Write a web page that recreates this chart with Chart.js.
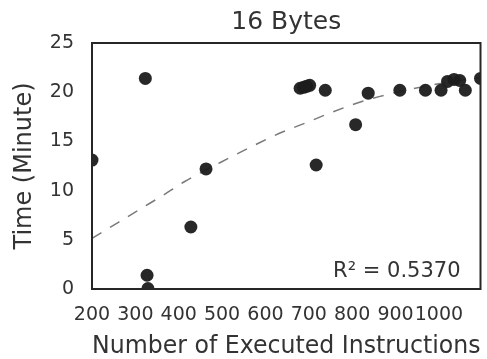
<!DOCTYPE html>
<html>
<head>
<meta charset="utf-8">
<script src="https://cdn.jsdelivr.net/npm/chart.js@4/dist/chart.umd.min.js"></script>
<style>
  html, body { margin: 0; padding: 0; background: #ffffff; }
  #wrap { width: 487px; height: 359px; }
</style>
</head>
<body>
<div id="wrap"><canvas id="c" width="487" height="359"></canvas></div>
<script>
// ---- data ----
const titleText = "16 Bytes";
const xLabel = "Number of Executed Instructions";
const yLabel = "Time (Minute)";
const annotationText = "R\u00B2 = 0.5370";

const instructions = [200, 323, 327, 329, 428, 463, 680, 688, 695, 702, 717, 738, 808, 837, 910, 969, 1005, 1020, 1035, 1048, 1061, 1096];
const minutes      = [13.1, 21.4, 1.4, 0.05, 6.3, 12.2, 20.4, 20.5, 20.6, 20.7, 12.6, 20.2, 16.7, 19.9, 20.2, 20.2, 20.2, 21.1, 21.3, 21.2, 20.2, 21.4];

const fitX = [200, 260, 310, 363, 413, 520, 574, 631, 694, 747, 805, 862, 923, 1000, 1096];
const fitY = [5.15, 6.75, 8.1, 9.5, 10.9, 13.4, 14.6, 15.8, 16.9, 17.85, 18.8, 19.55, 20.2, 20.85, 21.5];

const xTicks = [200, 300, 400, 500, 600, 700, 800, 900, 1000];
const yTicks = [0, 5, 10, 15, 20, 25];

// ---- chart ----
const textColor = '#333333';
const fontFamily = '"DejaVu Sans", sans-serif';

const scatterData = instructions.map((x, i) => ({ x: x, y: minutes[i] }));
const fitData = fitX.map((x, i) => ({ x: x, y: fitY[i] }));

const frame = {
  id: 'frame',
  afterDatasetsDraw(chart) {
    const { ctx, chartArea: a } = chart;
    ctx.save();
    ctx.strokeStyle = '#262626';
    ctx.lineWidth = 2;
    ctx.strokeRect(a.left, a.top, a.right - a.left, a.bottom - a.top);
    ctx.fillStyle = textColor;
    ctx.font = '21px ' + fontFamily;
    ctx.textAlign = 'right';
    ctx.textBaseline = 'alphabetic';
    ctx.fillText(annotationText, a.right - 20, a.bottom - 12);
    ctx.restore();
  }
};

new Chart(document.getElementById('c'), {
  type: 'scatter',
  data: {
    datasets: [
      {
        label: 'fit',
        data: fitData,
        showLine: true,
        borderColor: '#7a7a7a',
        borderWidth: 1.5,
        borderDash: [11, 10],
        pointRadius: 0,
        fill: false,
        cubicInterpolationMode: 'monotone',
        clip: 0,
        order: 2
      },
      {
        label: 'data',
        data: scatterData,
        pointRadius: 6.5,
        pointHoverRadius: 6.5,
        backgroundColor: 'rgba(28,28,28,0.95)',
        borderWidth: 0,
        clip: 0,
        order: 1
      }
    ]
  },
  options: {
    responsive: false,
    animation: false,
    events: [],
    layout: { padding: { left: 0, right: 5, top: 0, bottom: 0 } },
    plugins: {
      legend: { display: false },
      tooltip: { enabled: false },
      title: {
        display: true,
        fullSize: false,
        text: titleText,
        color: textColor,
        font: { family: fontFamily, size: 25, weight: 'normal', lineHeight: 1.2 },
        padding: { top: 7, bottom: 6 }
      }
    },
    scales: {
      x: {
        type: 'linear',
        min: Math.min(...instructions),
        max: Math.max(...instructions),
        grid: { display: false, drawTicks: false },
        border: { display: false },
        afterBuildTicks(scale) { scale.ticks = xTicks.map(v => ({ value: v })); },
        afterFit(scale) { scale.height = 70; },
        ticks: {
          autoSkip: false,
          maxRotation: 0,
          minRotation: 0,
          padding: 15,
          color: textColor,
          font: { family: fontFamily, size: 19 },
          callback: (v) => String(v)
        },
        title: {
          display: true,
          text: xLabel,
          color: textColor,
          font: { family: fontFamily, size: 24, lineHeight: 1 },
          padding: { top: 0, bottom: 0 }
        }
      },
      y: {
        type: 'linear',
        min: 0,
        max: 25,
        grid: { display: false, drawTicks: false },
        border: { display: false },
        afterBuildTicks(scale) { scale.ticks = yTicks.map(v => ({ value: v })); },
        afterFit(scale) { scale.width = 92; },
        ticks: {
          padding: 18,
          color: textColor,
          font: { family: fontFamily, size: 19 },
          callback: (v) => String(v)
        },
        title: {
          display: true,
          text: yLabel,
          color: textColor,
          font: { family: fontFamily, size: 24, lineHeight: 1 },
          padding: { top: 12.5, bottom: 0 }
        }
      }
    }
  },
  plugins: [frame]
});
</script>
</body>
</html>
